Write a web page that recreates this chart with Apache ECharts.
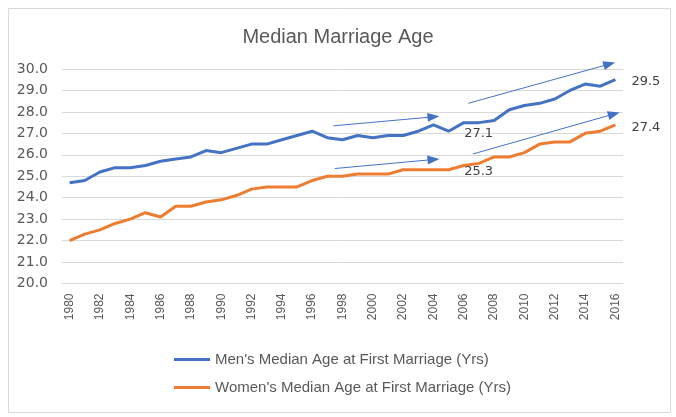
<!DOCTYPE html>
<html>
<head>
<meta charset="utf-8">
<script src="https://cdn.jsdelivr.net/npm/echarts@6/dist/echarts.min.js"></script>
<style>
html,body{margin:0;padding:0;background:#fff;}
#main{width:676px;height:417px;}
</style>
</head>
<body>
<div id="main"></div>
<script>
const years = [];
for (let y = 1980; y <= 2016; y++) years.push(String(y));

const menAge = [24.7, 24.8, 25.2, 25.4, 25.4, 25.5, 25.7, 25.8, 25.9, 26.2,
  26.1, 26.3, 26.5, 26.5, 26.7, 26.9, 27.1, 26.8, 26.7, 26.9,
  26.8, 26.9, 26.9, 27.1, 27.4, 27.1, 27.5, 27.5, 27.6, 28.1,
  28.3, 28.4, 28.6, 29.0, 29.3, 29.2, 29.5];

const womenAge = [22.0, 22.3, 22.5, 22.8, 23.0, 23.3, 23.1, 23.6, 23.6, 23.8,
  23.9, 24.1, 24.4, 24.5, 24.5, 24.5, 24.8, 25.0, 25.0, 25.1,
  25.1, 25.1, 25.3, 25.3, 25.3, 25.3, 25.5, 25.6, 25.9, 25.9,
  26.1, 26.5, 26.6, 26.6, 27.0, 27.1, 27.4];

const yMin = 20, yMax = 30, yStep = 1;

// Trend arrows in [year, age] units
const arrows = [
  [[1997.4, 27.35], [2004.0, 27.77]],
  [[2006.3, 28.40], [2015.6, 30.23]],
  [[1997.5, 25.36], [2004.0, 25.78]],
  [[2006.6, 26.04], [2015.9, 27.90]]
];

const labelIndex = 25; // 2005 values annotated

const blue = '#4472C4', orange = '#ED7D31';

const G = {left: 62, right: 53, top: 69, bottom: 133.5};
const plotH = 417 - G.top - G.bottom;
const unitPx = plotH / (yMax - yMin);

function pointLabel(arr) {
  return {
    symbol: 'circle', symbolSize: 0, silent: true,
    label: {show: true, position: 'inside', offset: [30, 2], formatter: p => p.value.toFixed(1),
      color: '#404040', fontSize: 13, fontFamily: 'DejaVu Sans'},
    data: [{coord: [labelIndex, arr[labelIndex]], value: arr[labelIndex]}]
  };
}

const chart = echarts.init(document.getElementById('main'));
chart.setOption({
  animation: false,
  backgroundColor: '#fff',
  graphic: [{
    type: 'rect', left: 6, top: 6, shape: {width: 662, height: 404},
    style: {fill: 'none', stroke: '#d9d9d9', lineWidth: 1}, silent: true
  }],
  title: {
    text: 'Median Marriage Age', left: 'center', top: 22,
    textStyle: {color: '#595959', fontSize: 20, fontWeight: 'normal',
      fontFamily: 'Liberation Sans'}
  },
  grid: [G, {left: G.left, right: G.right, top: G.top - unitPx * 2, bottom: G.bottom}],
  legend: {
    orient: 'vertical', left: 169, top: 347, itemGap: 13,
    icon: 'rect', itemWidth: 36, itemHeight: 3,
    textStyle: {color: '#595959', fontSize: 15, fontFamily: 'Liberation Sans'},
    data: ["Men's Median Age at First Marriage (Yrs)", "Women's Median Age at First Marriage (Yrs)"]
  },
  xAxis: [{
    type: 'category', data: years, boundaryGap: true,
    axisLine: {lineStyle: {color: '#d9d9d9'}},
    axisTick: {show: false},
    axisLabel: {interval: 1, rotate: 90, margin: 10, color: '#595959', fontSize: 12,
      fontFamily: 'Liberation Sans'}
  }, {
    type: 'value', gridIndex: 1, min: 1979.5, max: 2016.5, show: false
  }],
  yAxis: [{
    type: 'value', min: yMin, max: yMax, interval: yStep,
    axisLine: {show: false}, axisTick: {show: false},
    splitLine: {lineStyle: {color: '#d9d9d9'}},
    axisLabel: {formatter: v => v.toFixed(1), color: '#595959', fontSize: 14, margin: 14,
      fontFamily: 'DejaVu Sans'}
  }, {
    type: 'value', gridIndex: 1, min: yMin, max: yMax + 2, show: false
  }],
  series: [{
    name: "Men's Median Age at First Marriage (Yrs)",
    type: 'line', data: menAge, symbol: 'none',
    lineStyle: {color: blue, width: 3}, itemStyle: {color: blue},
    endLabel: {show: true, distance: 16, offset: [0, 2], formatter: p => p.value.toFixed(1),
      color: '#404040', fontSize: 13, fontFamily: 'DejaVu Sans'},
    markPoint: pointLabel(menAge)
  }, {
    name: "Women's Median Age at First Marriage (Yrs)",
    type: 'line', data: womenAge, symbol: 'none',
    lineStyle: {color: orange, width: 3}, itemStyle: {color: orange},
    endLabel: {show: true, distance: 16, offset: [0, 3], formatter: p => p.value.toFixed(1),
      color: '#404040', fontSize: 13, fontFamily: 'DejaVu Sans'},
    markPoint: pointLabel(womenAge)
  }, {
    type: 'line', xAxisIndex: 1, yAxisIndex: 1, data: [], silent: true,
    markLine: {
      silent: true, symbol: ['none', 'triangle'], symbolSize: [9, 12],
      label: {show: false},
      lineStyle: {color: blue, width: 1, type: 'solid'},
      data: arrows.map(a => [{coord: a[0]}, {coord: a[1]}])
    }
  }]
});
</script>
</body>
</html>
